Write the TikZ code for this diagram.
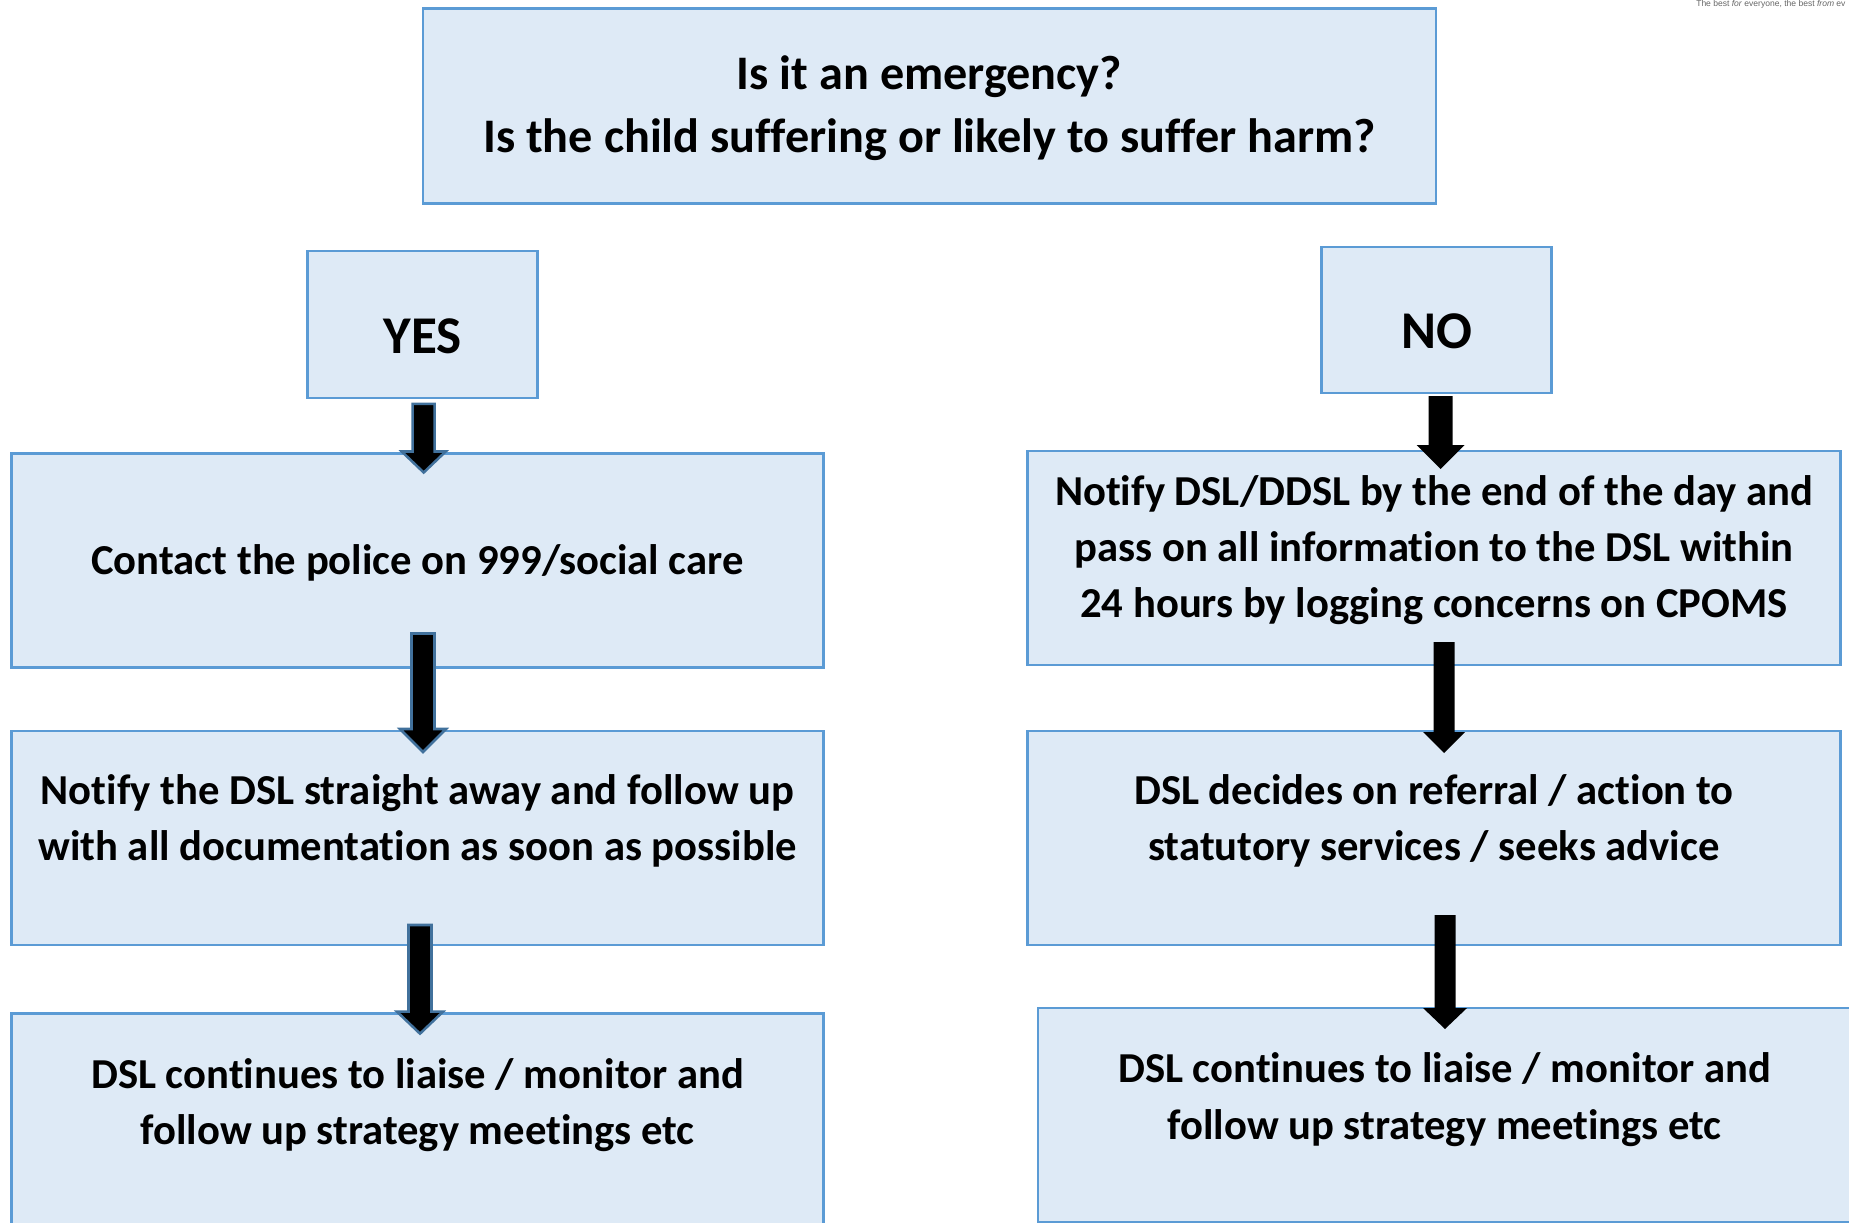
\documentclass[tikz,border=0pt]{standalone}
\usepackage{fontspec}
\setmainfont[Ligatures=NoCommon]{Carlito}
\newfontfamily\tinyfont{Liberation Sans}
\usetikzlibrary{calc}
\definecolor{boxfill}{HTML}{DEEAF6}
\definecolor{boxline}{HTML}{5B9BD5}
\definecolor{arrowline}{HTML}{41719C}
\tikzset{
  flowbox/.style={draw=boxline,fill=boxfill,line width=2pt,rectangle,inner sep=0pt,outer sep=0pt,align=center,font=\bfseries},
  outlined/.style={draw=arrowline,fill=black,line width=1.9pt,miter limit=3},
  plainarrow/.style={fill=black},
}
% shifted text block inside a box: #1 upward shift, #2 size, #3 pitch, #4 lines
\newcommand\boxtext[4]{\raisebox{#1}[0pt][0pt]{\fontsize{#2}{#3}\selectfont\begin{tabular}{@{}c@{}}#4\end{tabular}}}
% vertical block arrow: start, tip, half shaft width, half head width, head length (px), style
\newcommand\blockarrow[6]{%
  \path[#6] let \p1=#1, \p2=#2 in
    (\x1-#3*0.75pt,\y1) -- (\x1+#3*0.75pt,\y1) -- (\x1+#3*0.75pt,\y2+#5*0.75pt)
    -- (\x1+#4*0.75pt,\y2+#5*0.75pt) -- (\x1,\y2) -- (\x1-#4*0.75pt,\y2+#5*0.75pt)
    -- (\x1-#3*0.75pt,\y2+#5*0.75pt) -- cycle;}
\begin{document}
\begin{tikzpicture}[x=0.75pt,y=-0.75pt]
\clip (0,0) rectangle (1849,1223);
\node[flowbox,minimum width=759.75pt,minimum height=146.25pt] (top) at (929.5,106) {\boxtext{-8.2pt}{36.15pt}{47.2pt}{Is it an emergency?\\Is the child suffering or likely to suffer harm?}};
\node[flowbox,minimum width=172.5pt,minimum height=110pt] (yes) at (422.7,324.5) {\boxtext{-19pt}{39.8pt}{44pt}{YES}};
\node[flowbox,minimum width=172.5pt,minimum height=109.5pt] (no) at (1436.7,320) {\boxtext{-19pt}{39.8pt}{44pt}{NO}};
\node[flowbox,minimum width=609pt,minimum height=160.5pt] (contact) at (417.5,560.5) {\boxtext{-8.4pt}{32pt}{42.2pt}{Contact the police on 999/social care}};
\node[flowbox,minimum width=609pt,minimum height=160.5pt] (notify) at (417.5,838) {\boxtext{6.2pt}{32pt}{42.2pt}{Notify the DSL straight away and follow up\\with all documentation as soon as possible}};
\node[flowbox,minimum width=609pt,minimum height=170pt] (liaisel) at (417.5,1127) {\boxtext{10pt}{32pt}{42.2pt}{DSL continues to liaise / monitor and\\follow up strategy meetings etc}};
\node[flowbox,minimum width=609.5pt,minimum height=160.5pt] (dsl) at (1434,558) {\boxtext{-0.4pt}{32pt}{42.2pt}{Notify DSL/DDSL by the end of the day and\\pass on all information to the DSL within\\24 hours by logging concerns on CPOMS}};
\node[flowbox,minimum width=609.5pt,minimum height=160.5pt] (decides) at (1434,838) {\boxtext{6.2pt}{32pt}{42.2pt}{DSL decides on referral / action to\\statutory services / seeks advice}};
\node[flowbox,minimum width=610pt,minimum height=160.5pt] (liaiser) at (1444.5,1115) {\boxtext{5.6pt}{32pt}{42.6pt}{DSL continues to liaise / monitor and\\follow up strategy meetings etc}};
\node[text=gray!80!black,inner sep=0pt,anchor=west,font=\fontsize{6.4pt}{7pt}\tinyfont] (motto) at (1696,4) {The best \textit{for} everyone, the best \textit{from} ev};
\blockarrow{([shift={(1,6)}]yes.south)}{([shift={(6.5,19)}]contact.north)}{11}{22}{21}{outlined}
\blockarrow{([shift={(5.5,-34)}]contact.south)}{([shift={(5.5,21)}]notify.north)}{11.5}{23}{23}{outlined}
\blockarrow{([shift={(2.5,-20)}]notify.south)}{([shift={(2.5,20)}]liaisel.north)}{11.5}{23}{22}{outlined}
\blockarrow{([shift={(4,3)}]no.south)}{([shift={(7,18)}]dsl.north)}{12}{24}{24}{plainarrow}
\blockarrow{([shift={(10,-23)}]dsl.south)}{([shift={(10,22)}]decides.north)}{10.5}{21}{21}{plainarrow}
\blockarrow{([shift={(11,-30)}]decides.south)}{([shift={(0,21)}]liaiser.north)}{10.5}{22}{21}{plainarrow}
\end{tikzpicture}
\end{document}
